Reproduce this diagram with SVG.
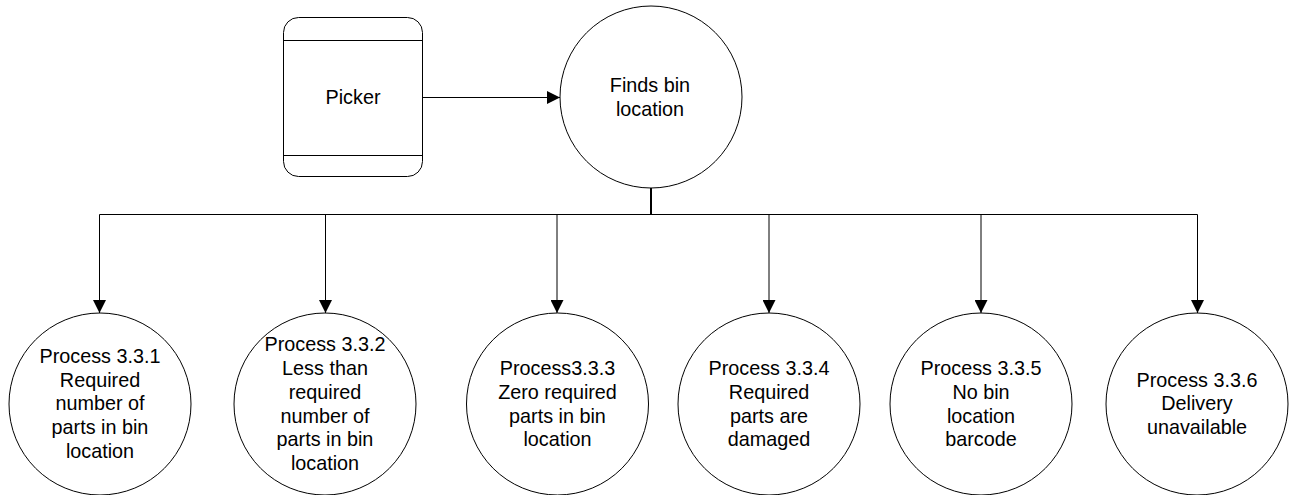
<svg xmlns="http://www.w3.org/2000/svg" width="1296" height="495" viewBox="0 0 1296 495">
  <style>
    .shape { fill: #fff; stroke: #000; stroke-width: 1; }
    .wire { fill: none; stroke: #000; stroke-width: 1; }
    .trunk { fill: none; stroke: #000; stroke-width: 2; }
    .label { font-family: "Liberation Sans", Arial, sans-serif; font-size: 19.8px; fill: #000; text-anchor: middle; }
  </style>
  <defs>
    <marker id="arrow" markerUnits="userSpaceOnUse" markerWidth="14" markerHeight="13" refX="13" refY="6.5" orient="auto">
      <path d="M0,0 L13,6.5 L0,13 Z" fill="#000"/>
    </marker>
  </defs>
  <rect width="1296" height="495" fill="#fff"/>

  <!-- connectors -->
  <g id="connectors">
    <line class="wire" x1="422" y1="97.5" x2="560" y2="97.5" marker-end="url(#arrow)"/>
    <line class="trunk" x1="651" y1="188" x2="651" y2="214.5"/>
    <line class="wire" x1="99.5" y1="214.5" x2="1197.5" y2="214.5"/>
    <line class="wire" x1="99.5" y1="214.5" x2="99.5" y2="313" marker-end="url(#arrow)"/>
    <line class="wire" x1="325.5" y1="214.5" x2="325.5" y2="313" marker-end="url(#arrow)"/>
    <line class="wire" x1="557" y1="214.5" x2="557" y2="313" marker-end="url(#arrow)"/>
    <line class="wire" x1="769" y1="214.5" x2="769" y2="313" marker-end="url(#arrow)"/>
    <line class="wire" x1="981" y1="214.5" x2="981" y2="313" marker-end="url(#arrow)"/>
    <line class="wire" x1="1197.5" y1="214.5" x2="1197.5" y2="313" marker-end="url(#arrow)"/>
  </g>

  <!-- external entity -->
  <g id="picker">
    <rect class="shape" x="283.5" y="17.5" width="139" height="159" rx="15" ry="15"/>
    <line class="wire" x1="283.5" y1="40.5" x2="422.5" y2="40.5"/>
    <line class="wire" x1="283.5" y1="155.5" x2="422.5" y2="155.5"/>
    <text class="label" x="353" y="103.5">Picker</text>
  </g>

  <g id="finds-bin-location">
    <circle class="shape" cx="651" cy="97" r="91"/>
    <text class="label" x="650" y="91.5">Finds bin</text>
    <text class="label" x="650" y="116">location</text>
  </g>

  <g id="process-3-3-1">
    <circle class="shape" cx="100" cy="404" r="91"/>
    <text class="label" x="100" y="362.5">Process 3.3.1</text>
    <text class="label" x="100" y="386.5">Required</text>
    <text class="label" x="100" y="410">number of</text>
    <text class="label" x="100" y="434">parts in bin</text>
    <text class="label" x="100" y="458">location</text>
  </g>

  <g id="process-3-3-2">
    <circle class="shape" cx="325" cy="404" r="91"/>
    <text class="label" x="325" y="351">Process 3.3.2</text>
    <text class="label" x="325" y="375">Less than</text>
    <text class="label" x="325" y="398.5">required</text>
    <text class="label" x="325" y="422.5">number of</text>
    <text class="label" x="325" y="446">parts in bin</text>
    <text class="label" x="325" y="470">location</text>
  </g>

  <g id="process-3-3-3">
    <circle class="shape" cx="557.5" cy="404" r="91"/>
    <text class="label" x="557.5" y="374.5">Process3.3.3</text>
    <text class="label" x="557.5" y="398.5">Zero required</text>
    <text class="label" x="557.5" y="422.5">parts in bin</text>
    <text class="label" x="557.5" y="446">location</text>
  </g>

  <g id="process-3-3-4">
    <circle class="shape" cx="769" cy="404" r="91"/>
    <text class="label" x="769" y="374.5">Process 3.3.4</text>
    <text class="label" x="769" y="398.5">Required</text>
    <text class="label" x="769" y="422.5">parts are</text>
    <text class="label" x="769" y="446">damaged</text>
  </g>

  <g id="process-3-3-5">
    <circle class="shape" cx="981" cy="404" r="91"/>
    <text class="label" x="981" y="374.5">Process 3.3.5</text>
    <text class="label" x="981" y="398.5">No bin</text>
    <text class="label" x="981" y="422.5">location</text>
    <text class="label" x="981" y="446">barcode</text>
  </g>

  <g id="process-3-3-6">
    <circle class="shape" cx="1197" cy="404" r="91"/>
    <text class="label" x="1197" y="386.5">Process 3.3.6</text>
    <text class="label" x="1197" y="410">Delivery</text>
    <text class="label" x="1197" y="434">unavailable</text>
  </g>
</svg>
